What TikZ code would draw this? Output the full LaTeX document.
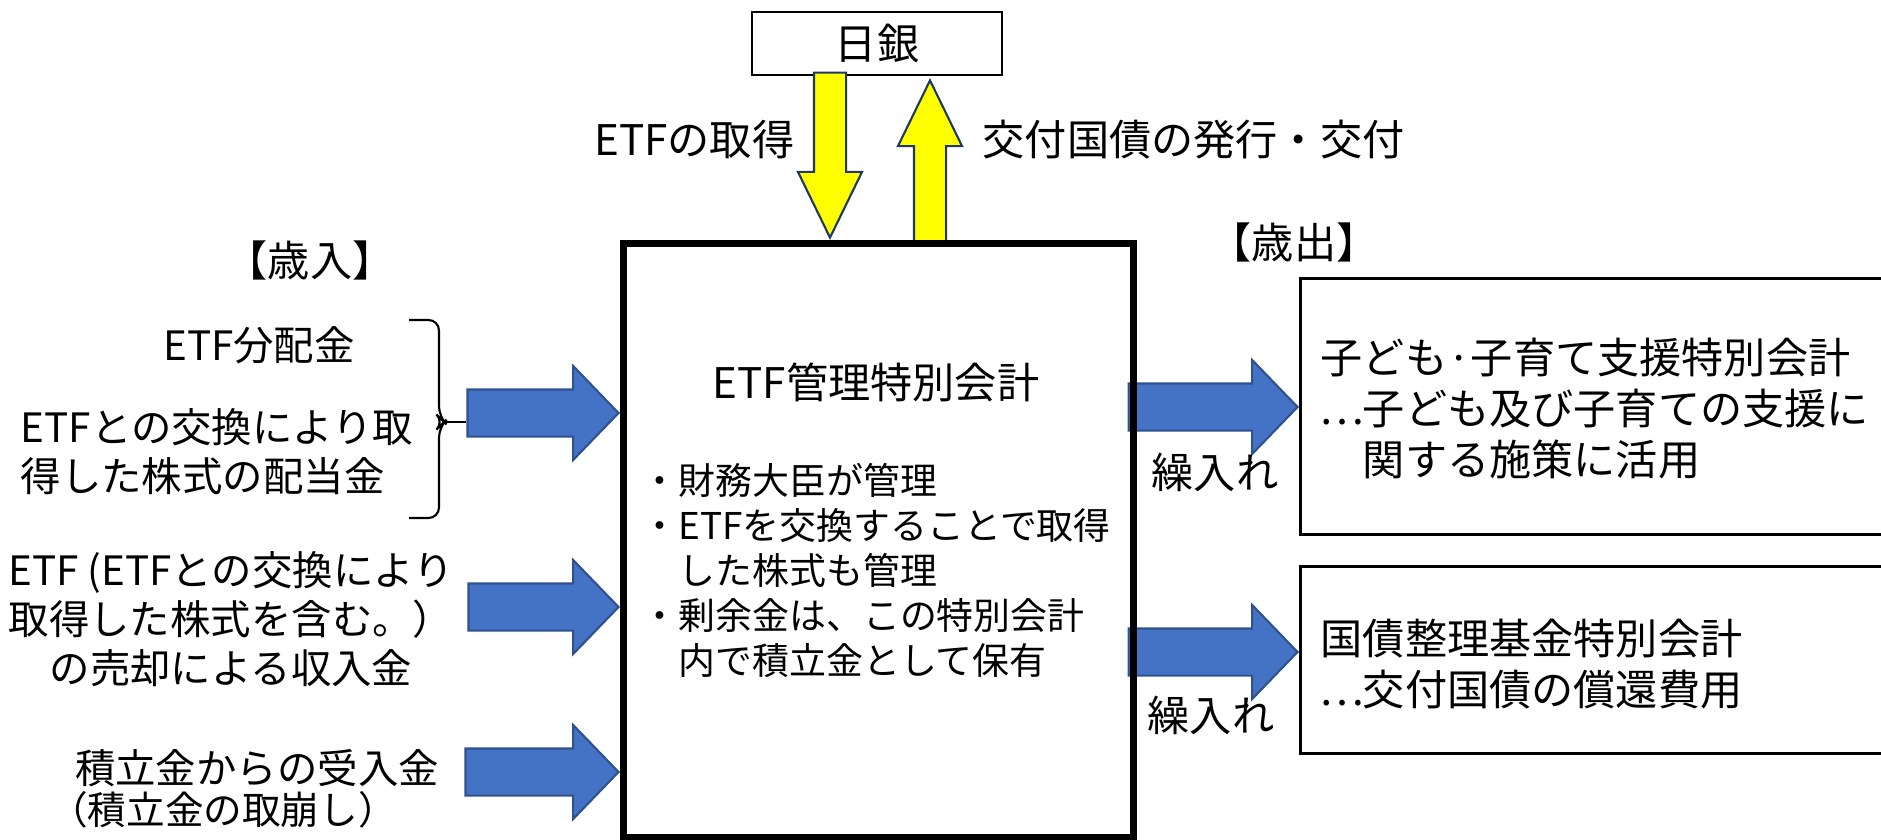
\documentclass[tikz,border=0pt]{standalone}
\usepackage{fontspec}
\setmainfont{Noto Sans CJK JP}
\usetikzlibrary{positioning,shapes.arrows}
\definecolor{arrblue}{HTML}{4472C4}
\definecolor{arrblueline}{HTML}{2F528F}
\definecolor{arryellow}{HTML}{FFFF00}
\definecolor{arryellowline}{HTML}{1F3864}

\begin{document}
\begin{tikzpicture}[x=0.1mm,y=-0.1mm]
\tikzset{
bluearr/.style={
  single arrow,
  fill=arrblue,
  draw=arrblueline,
  line width=0.6pt,
  inner xsep=0pt,
  inner ysep=2.25mm,
  single arrow head extend=2.35mm,
  single arrow tip angle=92
  },
yelarr/.style={
  single arrow,
  fill=arryellow,
  draw=arryellowline,
  line width=0.6pt,
  inner xsep=0pt,
  inner ysep=1.5mm,
  single arrow head extend=1.6mm,
  single arrow tip angle=52
  },
acctbox/.style={draw, line width=0.8pt, inner sep=0pt, anchor=north west},
bigtxt/.style={font=\fontsize{12}{14.5}\selectfont},
lefttxt/.style={font=\fontsize{11.5}{14}\selectfont},
bullettxt/.style={font=\fontsize{10.5}{12.8}\selectfont, align=left, inner sep=0pt}
}

\useasboundingbox (0,0) rectangle (1881,839);

% Nichigin and the two yellow arrows
\node[draw, line width=0.6pt, minimum width=25mm, minimum height=6.3mm, bigtxt] (boj) at (877,43.5) {日銀};
\node[yelarr, rotate=-90, minimum height=16.5mm, anchor=tip] (getetf) at (830,240) {};
\node[yelarr, rotate=90, minimum height=16.1mm, anchor=tip] (issue) at (930,78) {};
\node[bigtxt, anchor=east, inner sep=0pt] (getetflabel) at (795,140) {ETFの取得};
\node[bigtxt, anchor=west, inner sep=0pt] (issuelabel) at (982,140) {交付国債の発行・交付};

% revenue side
\node[bigtxt] (rev) at (310,260) {【歳入】};
\node[lefttxt] (etfdiv) at (259,345) {ETF分配金};
\node[lefttxt, align=left, anchor=west, inner sep=0pt] (stockdiv) at (20,452) {ETFとの交換により取\\得した株式の配当金};
\node[lefttxt, align=center] (sale) at (231,619) {ETF (ETFとの交換により\\取得した株式を含む。）\\の売却による収入金};
\node[lefttxt] (reserve) at (257,768) {積立金からの受入金};
\node[font=\fontsize{11}{13}\selectfont] (reservesub) at (223,810) {（積立金の取崩し）};

\node[bluearr, minimum height=15.1mm, anchor=tip] (inA) at (620,413) {};
\node[bluearr, minimum height=15.0mm, anchor=tip] (inB) at (620,607) {};
\node[bluearr, minimum height=15.3mm, anchor=tip] (inC) at (620,772) {};

\coordinate (brtip) at (444,422);
\draw[line width=0.6pt, rounded corners=3pt] (409,320) -- (439,320) -- (439,417) -- (brtip) -- (439,427) -- (439,518) -- (409,518);
\draw[line width=0.6pt] (brtip) -- (brtip -| inA.tail);

% expenditure side
\node[bigtxt] (exp) at (1294,242) {【歳出】};
\node[acctbox, minimum width=59.6mm, minimum height=25.6mm] (kodomo) at (1299,277) {};
\node[bigtxt, align=left, anchor=west, inner sep=0pt] (kodomotxt) at (1320,409) {子ども·子育て支援特別会計\\\makebox[1em][c]{⋯}子ども及び子育ての支援に\\　関する施策に活用};
\node[acctbox, minimum width=59.6mm, minimum height=18.7mm] (kokusai) at (1299,565) {};
\node[bigtxt, align=left, anchor=west, inner sep=0pt] (kokusaitxt) at (1320,664) {国債整理基金特別会計\\\makebox[1em][c]{⋯}交付国債の償還費用};

\node[bluearr, minimum height=16.9mm, anchor=tip] (toKodomo) at (1299,407) {};
\node[bluearr, minimum height=16.9mm, anchor=tip] (toKokusai) at (1299,652) {};
\node[bigtxt] (kuriire1) at (1215,472) {繰入れ};
\node[bigtxt] (kuriire2) at (1211,715) {繰入れ};

% the ETF account itself
\node[draw, line width=2pt, minimum width=51mm, minimum height=59.4mm, anchor=north west, inner sep=0pt] (etfacct) at (620,240) {};
\node[bigtxt] (etftitle) at (876,382) {ETF管理特別会計};
\node[bullettxt, anchor=west] (etfnotes) at (641,570) {・財務大臣が管理\\・ETFを交換することで取得\\　した株式も管理\\・剰余金は、この特別会計\\　内で積立金として保有};

\end{tikzpicture}
\end{document}
